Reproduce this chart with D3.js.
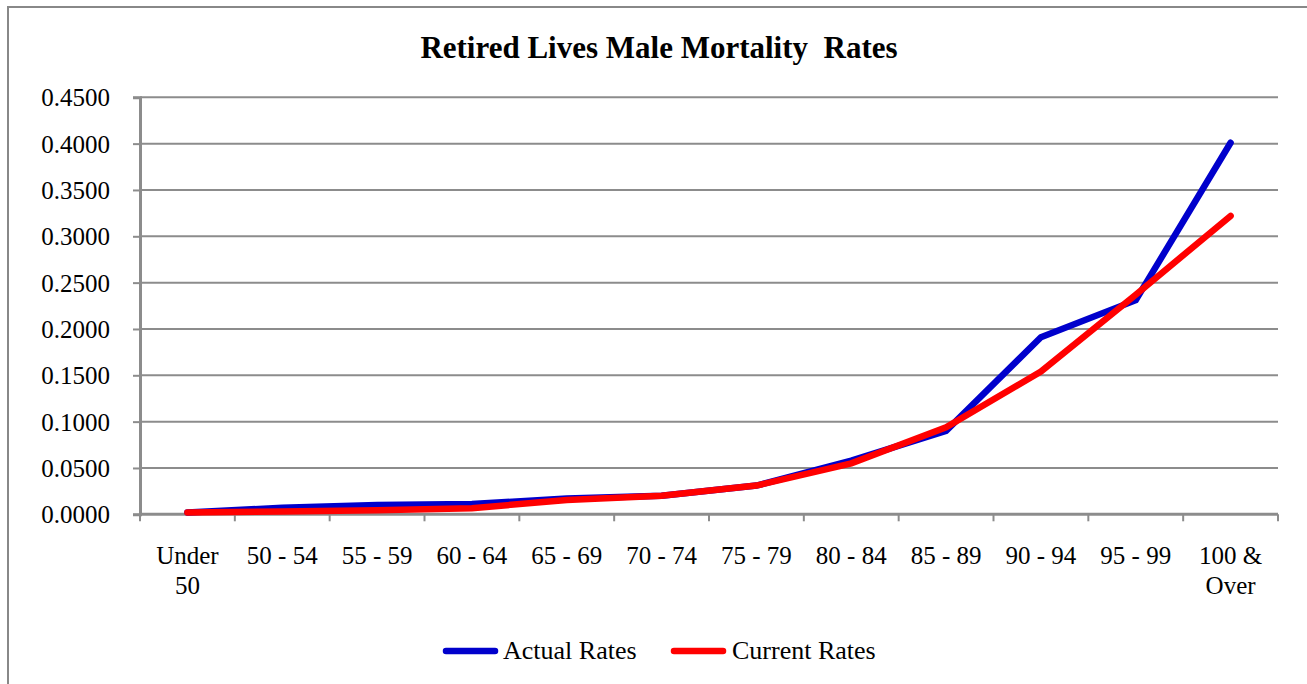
<!DOCTYPE html>
<html><head><meta charset="utf-8">
<script src="https://cdn.jsdelivr.net/npm/d3@7"></script>
<style>body{margin:0;background:#fff}svg{display:block}text{font-family:"Liberation Serif","Times New Roman",serif;fill:#000;white-space:pre}</style>
</head><body><svg id="c" width="1307" height="684"></svg>
<script>
const title = "Retired Lives Male Mortality  Rates";
const categories = [["Under","50"],["50 - 54"],["55 - 59"],["60 - 64"],["65 - 69"],["70 - 74"],["75 - 79"],["80 - 84"],["85 - 89"],["90 - 94"],["95 - 99"],["100 &","Over"]];
const actualRates  = [0.002,0.007,0.010,0.011,0.017,0.020,0.031,0.058,0.090,0.191,0.231,0.401];
const currentRates = [0.002,0.003,0.0045,0.0065,0.0155,0.020,0.031,0.055,0.094,0.154,0.237,0.322];
const yTicks = [0,0.05,0.1,0.15,0.2,0.25,0.3,0.35,0.4,0.45];
const seriesNames = ["Actual Rates","Current Rates"];
const seriesColors = ["#0000CC","#FF0000"];

const svg = d3.select("#c");
const W=1307,H=684;
const m={left:140,right:1278,top:97.3,bottom:514.3};
svg.append("rect").attr("x",8).attr("y",7).attr("width",W+10).attr("height",H+10)
  .attr("fill","none").attr("stroke","#888").attr("stroke-width",2);

const x = d3.scaleBand().domain(d3.range(categories.length)).range([m.left,m.right]);
const y = d3.scaleLinear().domain([0,0.45]).range([m.bottom,m.top]);

// gridlines
svg.append("g").selectAll("line").data(yTicks.slice(1)).join("line")
  .attr("x1",m.left).attr("x2",m.right).attr("y1",d=>y(d)).attr("y2",d=>y(d))
  .attr("stroke","#8c8c8c").attr("stroke-width",2);

// y axis
const ya = svg.append("g").attr("transform",`translate(${m.left},0)`)
  .call(d3.axisLeft(y).tickValues(yTicks).tickFormat(d3.format(".4f")).tickSize(7).tickPadding(23));
ya.select(".domain").attr("stroke","#8c8c8c").attr("stroke-width",3);
ya.selectAll(".tick line").attr("stroke","#8c8c8c").attr("stroke-width",2);
ya.selectAll("text").attr("font-size",25).attr("font-family","Liberation Serif").attr("fill","#000").attr("dy","0.34em");

// x axis
const xa = svg.append("g").attr("transform",`translate(0,${m.bottom})`);
xa.append("line").attr("x1",m.left).attr("x2",m.right).attr("stroke","#8c8c8c").attr("stroke-width",3);
const bounds = d3.range(categories.length+1).map(i=> i<categories.length ? x(i) : x(i-1)+x.bandwidth());
xa.selectAll("line.t").data(bounds).join("line").attr("class","t")
  .attr("x1",d=>d).attr("x2",d=>d).attr("y1",0).attr("y2",7).attr("stroke","#8c8c8c").attr("stroke-width",2);
const lab = xa.selectAll("text.c").data(categories).join("text").attr("class","c")
  .attr("text-anchor","middle").attr("font-size",25)
  .attr("transform",(d,i)=>`translate(${x(i)+x.bandwidth()/2},0)`);
lab.each(function(d){
  d3.select(this).selectAll("tspan").data(d).join("tspan")
    .attr("x",0).attr("y",(t,j)=>50+j*30).text(t=>t);
});

// lines
const line = d3.line().x((d,i)=>x(i)+x.bandwidth()/2).y(d=>y(d));
[actualRates,currentRates].forEach((s,k)=>{
  svg.append("path").datum(s).attr("d",line).attr("fill","none")
    .attr("stroke",seriesColors[k]).attr("stroke-width",6.5)
    .attr("stroke-linecap","round").attr("stroke-linejoin","miter");
});

// title
svg.append("text").attr("x",659).attr("y",58).attr("text-anchor","middle")
  .attr("font-size",31).attr("font-weight","bold").text(title);

// legend
const lg = [{x0:443,tx:503},{x0:671,tx:732}];
seriesNames.forEach((n,k)=>{
  svg.append("line").attr("x1",lg[k].x0+3).attr("x2",lg[k].x0+52).attr("y1",651).attr("y2",651)
    .attr("stroke",seriesColors[k]).attr("stroke-width",6.5).attr("stroke-linecap","round");
  svg.append("text").attr("x",lg[k].tx).attr("y",659).attr("font-size",26).text(n);
});
</script></body></html>
